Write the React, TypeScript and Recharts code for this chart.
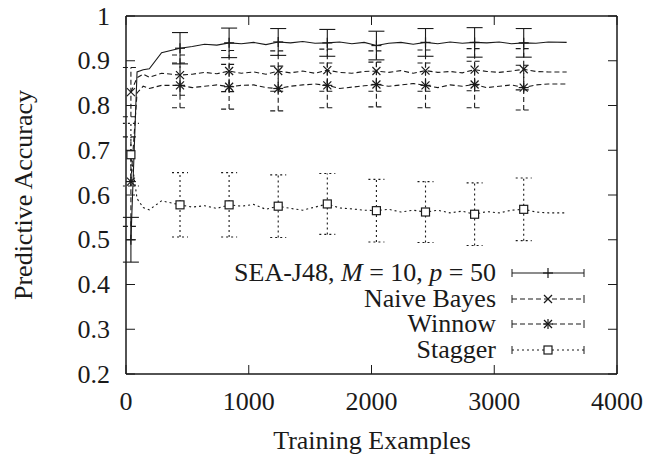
import { LineChart, Line, XAxis, YAxis, ErrorBar, Legend } from "recharts";

const xs = [
  40, 90, 140, 190, 290, 440, 540, 640, 740, 840, 940, 1040, 1140, 1240, 1340, 1440, 1540, 1640, 1740,
  1840, 1940, 2040, 2140, 2240, 2340, 2440, 2540, 2640, 2740, 2840, 2940, 3040, 3140, 3240, 3340, 3440,
  3590,
];

const seaAcc = [
  0.5, 0.875, 0.88, 0.882, 0.918, 0.928, 0.932, 0.937, 0.935, 0.94, 0.938, 0.941, 0.936, 0.942, 0.94,
  0.943, 0.939, 0.94, 0.942, 0.938, 0.941, 0.934, 0.939, 0.941, 0.937, 0.941, 0.938, 0.942, 0.939, 0.941,
  0.94, 0.942, 0.938, 0.94, 0.939, 0.942, 0.941,
];

const nbAcc = [
  0.83, 0.862, 0.87, 0.863, 0.872, 0.868, 0.87, 0.874, 0.871, 0.877, 0.872, 0.875, 0.87, 0.877, 0.873,
  0.877, 0.872, 0.879, 0.874, 0.872, 0.876, 0.877, 0.874, 0.878, 0.872, 0.878, 0.874, 0.876, 0.873, 0.88,
  0.876, 0.874, 0.877, 0.881, 0.876, 0.875, 0.875,
];

const winnowAcc = [
  0.63, 0.828, 0.843, 0.838, 0.845, 0.845, 0.84, 0.843, 0.846, 0.842, 0.845, 0.846, 0.84, 0.838, 0.843,
  0.846, 0.848, 0.845, 0.838, 0.841, 0.844, 0.847, 0.843, 0.846, 0.849, 0.845, 0.84, 0.846, 0.843, 0.847,
  0.84, 0.843, 0.846, 0.84, 0.846, 0.848, 0.848,
];

const staggerAcc = [
  0.69, 0.592, 0.572, 0.567, 0.587, 0.578, 0.573, 0.576, 0.57, 0.578, 0.575, 0.579, 0.568, 0.575, 0.57,
  0.566, 0.573, 0.58, 0.571, 0.569, 0.566, 0.565, 0.568, 0.562, 0.566, 0.562, 0.566, 0.56, 0.564, 0.557,
  0.563, 0.56, 0.566, 0.568, 0.562, 0.56, 0.56,
];

// error bars only every 400 examples
const barXs = [40, 440, 840, 1240, 1640, 2040, 2440, 2840, 3240];
const seaErr = [0.05, 0.035, 0.033, 0.03, 0.03, 0.032, 0.031, 0.033, 0.032];
const nbErr = [0.055, 0.045, 0.046, 0.045, 0.047, 0.045, 0.046, 0.047, 0.046];
const winnowErr = [0.1, 0.05, 0.05, 0.05, 0.05, 0.05, 0.05, 0.052, 0.05];
const staggerErr = [0.07, 0.072, 0.072, 0.07, 0.068, 0.07, 0.068, 0.07, 0.07];

const xTicks = [0, 1000, 2000, 3000, 4000];
const yTicks = [0.2, 0.3, 0.4, 0.5, 0.6, 0.7, 0.8, 0.9, 1];

const INK = "#1a1a1a";
const FONT = "Liberation Serif, serif";
const FS = 26;

const rows = xs.map((x, i) => {
  const b = barXs.indexOf(x);
  return {
    x,
    sea: seaAcc[i],
    nb: nbAcc[i],
    win: winnowAcc[i],
    stg: staggerAcc[i],
    seaE: b >= 0 ? seaErr[b] : undefined,
    nbE: b >= 0 ? nbErr[b] : undefined,
    winE: b >= 0 ? winnowErr[b] : undefined,
    stgE: b >= 0 ? staggerErr[b] : undefined,
  };
});

type Kind = "plus" | "cross" | "star" | "square";

function Marker({ kind, x, y }: { kind: Kind; x: number; y: number }) {
  const s = { stroke: INK, strokeWidth: 1.2 };
  if (kind === "square")
    return <rect x={x - 4} y={y - 4} width={8} height={8} fill="white" {...s} />;
  const plus = (
    <>
      <line x1={x - 5} x2={x + 5} y1={y} y2={y} {...s} />
      <line x1={x} x2={x} y1={y - 5} y2={y + 5} {...s} />
    </>
  );
  const cross = (
    <>
      <line x1={x - 4} x2={x + 4} y1={y - 4} y2={y + 4} {...s} />
      <line x1={x - 4} x2={x + 4} y1={y + 4} y2={y - 4} {...s} />
    </>
  );
  return (
    <g>
      {kind !== "cross" ? plus : null}
      {kind !== "plus" ? cross : null}
    </g>
  );
}

function makeDot(kind: Kind, errKey: string) {
  return (p: any) => {
    if (p.payload?.[errKey] == null || p.cx == null) return <g key={p.index} />;
    return <Marker key={p.index} kind={kind} x={p.cx} y={p.cy} />;
  };
}

const txt = { style: { fontFamily: FONT, fontSize: FS, fill: INK } };

function BottomTick(p: any) {
  return (
    <g>
      <line x1={p.x} x2={p.x} y1={p.y} y2={p.y - 9} stroke={INK} />
      <text x={p.x} y={p.y + 27} textAnchor="middle" dominantBaseline="central" {...txt}>
        {p.payload.value}
      </text>
    </g>
  );
}

function TopTick(p: any) {
  return <line x1={p.x} x2={p.x} y1={p.y} y2={p.y + 9} stroke={INK} />;
}

function LeftTick(p: any) {
  return (
    <g>
      <line x1={p.x} x2={p.x + 9} y1={p.y} y2={p.y} stroke={INK} />
      <text x={p.x - 16} y={p.y} textAnchor="end" dominantBaseline="central" {...txt}>
        {p.payload.value}
      </text>
    </g>
  );
}

function RightTick(p: any) {
  return <line x1={p.x} x2={p.x - 9} y1={p.y} y2={p.y} stroke={INK} />;
}

const legendItems: { label: any; kind: Kind; dash?: string }[] = [
  {
    label: (
      <>
        SEA-J48, <i>M</i> = 10, <i>p</i> = 50
      </>
    ),
    kind: "plus",
  },
  { label: "Naive Bayes", kind: "cross", dash: "5 3" },
  { label: "Winnow", kind: "star", dash: "5 3" },
  { label: "Stagger", kind: "square", dash: "2 3" },
];

function renderLegend() {
  return (
    <div style={{ position: "relative", width: 648 }}>
      {legendItems.map((it, i) => (
        <div key={i} style={{ position: "relative", height: 25.7 }}>
          <span
            style={{
              position: "absolute",
              right: 152,
              top: 0,
              lineHeight: "25.7px",
              fontFamily: FONT,
              fontSize: FS,
              color: INK,
              whiteSpace: "nowrap",
            }}
          >
            {it.label}
          </span>
          <svg width={84} height={26} style={{ position: "absolute", left: 506, top: 0 }}>
            <line x1={6} x2={78} y1={13} y2={13} stroke={INK} strokeWidth={1.2} strokeDasharray={it.dash} />
            <line x1={6} x2={6} y1={9} y2={17} stroke={INK} />
            <line x1={78} x2={78} y1={9} y2={17} stroke={INK} />
            <Marker kind={it.kind} x={42} y={13} />
          </svg>
        </div>
      ))}
    </div>
  );
}

const series = [
  { key: "sea", err: "seaE", kind: "plus" as Kind, dash: undefined },
  { key: "nb", err: "nbE", kind: "cross" as Kind, dash: "5 3" },
  { key: "win", err: "winE", kind: "star" as Kind, dash: "5 3" },
  { key: "stg", err: "stgE", kind: "square" as Kind, dash: "2 3" },
];

export default function App() {
  return (
    <div
      style={{
        position: "fixed",
        left: 0,
        top: 0,
        width: 648,
        height: 454,
        background: "white",
        fontFamily: FONT,
      }}
    >
      <LineChart width={648} height={454} data={rows} margin={{ top: 15, right: 30, bottom: 0, left: 0 }}>
        <XAxis
          dataKey="x"
          type="number"
          domain={[0, 4000]}
          ticks={xTicks}
          allowDataOverflow
          height={80}
          tickSize={0}
          tickMargin={0}
          tickLine={false}
          tick={<BottomTick />}
          axisLine={{ stroke: INK, strokeWidth: 1.5 }}
          label={{
            content: () => (
              <text x={372} y={440} textAnchor="middle" dominantBaseline="central" {...txt}>
                Training Examples
              </text>
            ),
          }}
        />
        <XAxis
          xAxisId="top"
          orientation="top"
          dataKey="x"
          type="number"
          domain={[0, 4000]}
          ticks={xTicks}
          allowDataOverflow
          height={1}
          tickSize={0}
          tickMargin={0}
          tickLine={false}
          tick={<TopTick />}
          axisLine={{ stroke: INK, strokeWidth: 1.5 }}
        />
        <YAxis
          type="number"
          domain={[0.2, 1]}
          ticks={yTicks}
          allowDataOverflow
          width={126}
          tickSize={0}
          tickMargin={0}
          tickLine={false}
          tick={<LeftTick />}
          axisLine={{ stroke: INK, strokeWidth: 1.5 }}
          label={{
            content: () => (
              <text
                x={23}
                y={195}
                transform="rotate(-90 23 195)"
                textAnchor="middle"
                dominantBaseline="central"
                {...txt}
              >
                Predictive Accuracy
              </text>
            ),
          }}
        />
        <YAxis
          yAxisId="right"
          orientation="right"
          type="number"
          domain={[0.2, 1]}
          ticks={yTicks}
          allowDataOverflow
          width={1}
          tickSize={0}
          tickMargin={0}
          tickLine={false}
          tick={<RightTick />}
          axisLine={{ stroke: INK, strokeWidth: 1.5 }}
        />
        <Legend
          verticalAlign="middle"
          align="center"
          content={renderLegend}
          wrapperStyle={{ left: 0, top: 260, width: 648 }}
        />
        {series.map((s) => (
          <Line
            key={s.key}
            type="linear"
            dataKey={s.key}
            stroke={INK}
            strokeWidth={1.1}
            strokeDasharray={s.dash}
            dot={makeDot(s.kind, s.err)}
            activeDot={false}
            isAnimationActive={false}
          >
            <ErrorBar
              dataKey={s.err}
              width={8}
              stroke={INK}
              strokeWidth={1.1}
              strokeDasharray={s.dash}
              direction="y"
            />
          </Line>
        ))}
      </LineChart>
    </div>
  );
}
